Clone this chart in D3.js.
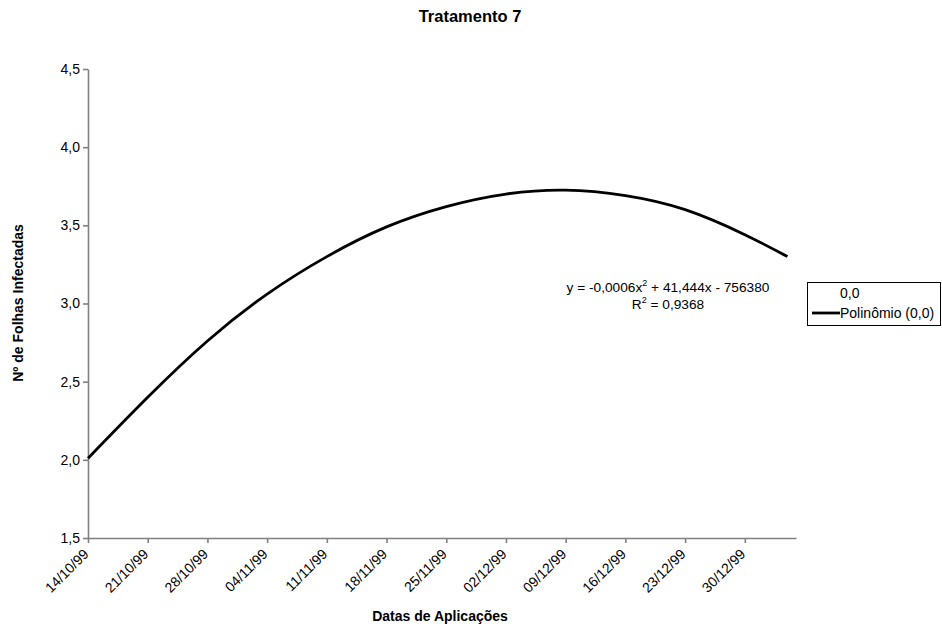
<!DOCTYPE html>
<html>
<head>
<meta charset="utf-8">
<title>Tratamento 7</title>
<script src="https://d3js.org/d3.v7.min.js"></script>
<style>
  body { margin: 0; background: #fff; }
  text { font-family: "Liberation Sans", Arial, sans-serif; fill: #000; }
  .axis path, .axis line { stroke: #808080; }
  .axis text { font-size: 14px; }
</style>
</head>
<body>
<svg width="942" height="626"></svg>
<script>
// trend curve readings (Polinômio (0,0))
const dates = ["14/10/99", "21/10/99", "28/10/99", "04/11/99", "11/11/99", "18/11/99",
  "25/11/99", "02/12/99", "09/12/99", "16/12/99", "23/12/99", "30/12/99", "04/01/00"];
const values = [2.01, 2.40, 2.76, 3.06, 3.30, 3.49, 3.62, 3.70, 3.725, 3.69, 3.60, 3.44, 3.30];
const xTicks = ["14/10/99", "21/10/99", "28/10/99", "04/11/99", "11/11/99", "18/11/99",
  "25/11/99", "02/12/99", "09/12/99", "16/12/99", "23/12/99", "30/12/99"];
const xEnd = "05/01/00";
const yTicks = [1.5, 2.0, 2.5, 3.0, 3.5, 4.0, 4.5];

const parse = d3.timeParse("%d/%m/%y");
const fmt = d3.timeFormat("%d/%m/%y");
const comma = d => d3.format(".1f")(d).replace(".", ",");

const svg = d3.select("svg");

const x = d3.scaleTime()
  .domain([parse(xTicks[0]), parse(xEnd)])
  .range([88, 796]);
const y = d3.scaleLinear()
  .domain([1.5, 4.5])
  .range([538, 69]);

// axes
const yg = svg.append("g")
  .attr("class", "axis")
  .attr("transform", "translate(88,0)")
  .call(d3.axisLeft(y).tickValues(yTicks).tickFormat(comma).tickSizeOuter(0).tickSizeInner(5).tickPadding(3));
yg.selectAll("path, line").attr("stroke-width", 1.6);

const xg = svg.append("g")
  .attr("class", "axis")
  .attr("transform", "translate(0,538)")
  .call(d3.axisBottom(x).tickValues(xTicks.map(parse)).tickFormat(fmt).tickSizeOuter(0).tickSizeInner(5));
xg.selectAll("path, line").attr("stroke-width", 1.6);
xg.selectAll("text")
  .attr("text-anchor", "end")
  .attr("dy", null)
  .attr("y", 0)
  .attr("transform", "translate(1,17) rotate(-45)");

// curve
const pts = dates.map((d, i) => ({ date: parse(d), v: values[i] }));
svg.append("path")
  .datum(pts)
  .attr("fill", "none")
  .attr("stroke", "#000")
  .attr("stroke-width", 2.8)
  .attr("d", d3.line().x(d => x(d.date)).y(d => y(d.v)).curve(d3.curveNatural));

// title and axis labels
svg.append("text")
  .attr("x", 470).attr("y", 22)
  .attr("text-anchor", "middle")
  .attr("font-weight", "bold")
  .attr("font-size", 16.5)
  .text("Tratamento 7");

svg.append("text")
  .attr("x", 440).attr("y", 621)
  .attr("text-anchor", "middle")
  .attr("font-weight", "bold")
  .attr("font-size", 14)
  .text("Datas de Aplicações");

svg.append("text")
  .attr("transform", "translate(23,303) rotate(-90)")
  .attr("text-anchor", "middle")
  .attr("font-weight", "bold")
  .attr("font-size", 14)
  .text("Nº de Folhas Infectadas");

// equation
const eq = svg.append("text")
  .attr("x", 668).attr("y", 292)
  .attr("text-anchor", "middle")
  .attr("font-size", 13.7);
eq.append("tspan").text("y = -0,0006x");
eq.append("tspan").attr("dy", -6).attr("font-size", 9).text("2");
eq.append("tspan").attr("dy", 6).text(" + 41,444x - 756380");

const r2 = svg.append("text")
  .attr("x", 668).attr("y", 309)
  .attr("text-anchor", "middle")
  .attr("font-size", 13.7);
r2.append("tspan").text("R");
r2.append("tspan").attr("dy", -6).attr("font-size", 9).text("2");
r2.append("tspan").attr("dy", 6).text(" = 0,9368");

// legend
const lg = svg.append("g");
lg.append("rect")
  .attr("x", 807.5).attr("y", 282.5)
  .attr("width", 133).attr("height", 43)
  .attr("fill", "#fff").attr("stroke", "#000");
lg.append("text").attr("x", 840).attr("y", 298).attr("font-size", 14).text("0,0");
lg.append("line")
  .attr("x1", 812).attr("x2", 840).attr("y1", 313).attr("y2", 313)
  .attr("stroke", "#000").attr("stroke-width", 2.8);
lg.append("text").attr("x", 840).attr("y", 318).attr("font-size", 14).text("Polinômio (0,0)");
</script>
</body>
</html>
